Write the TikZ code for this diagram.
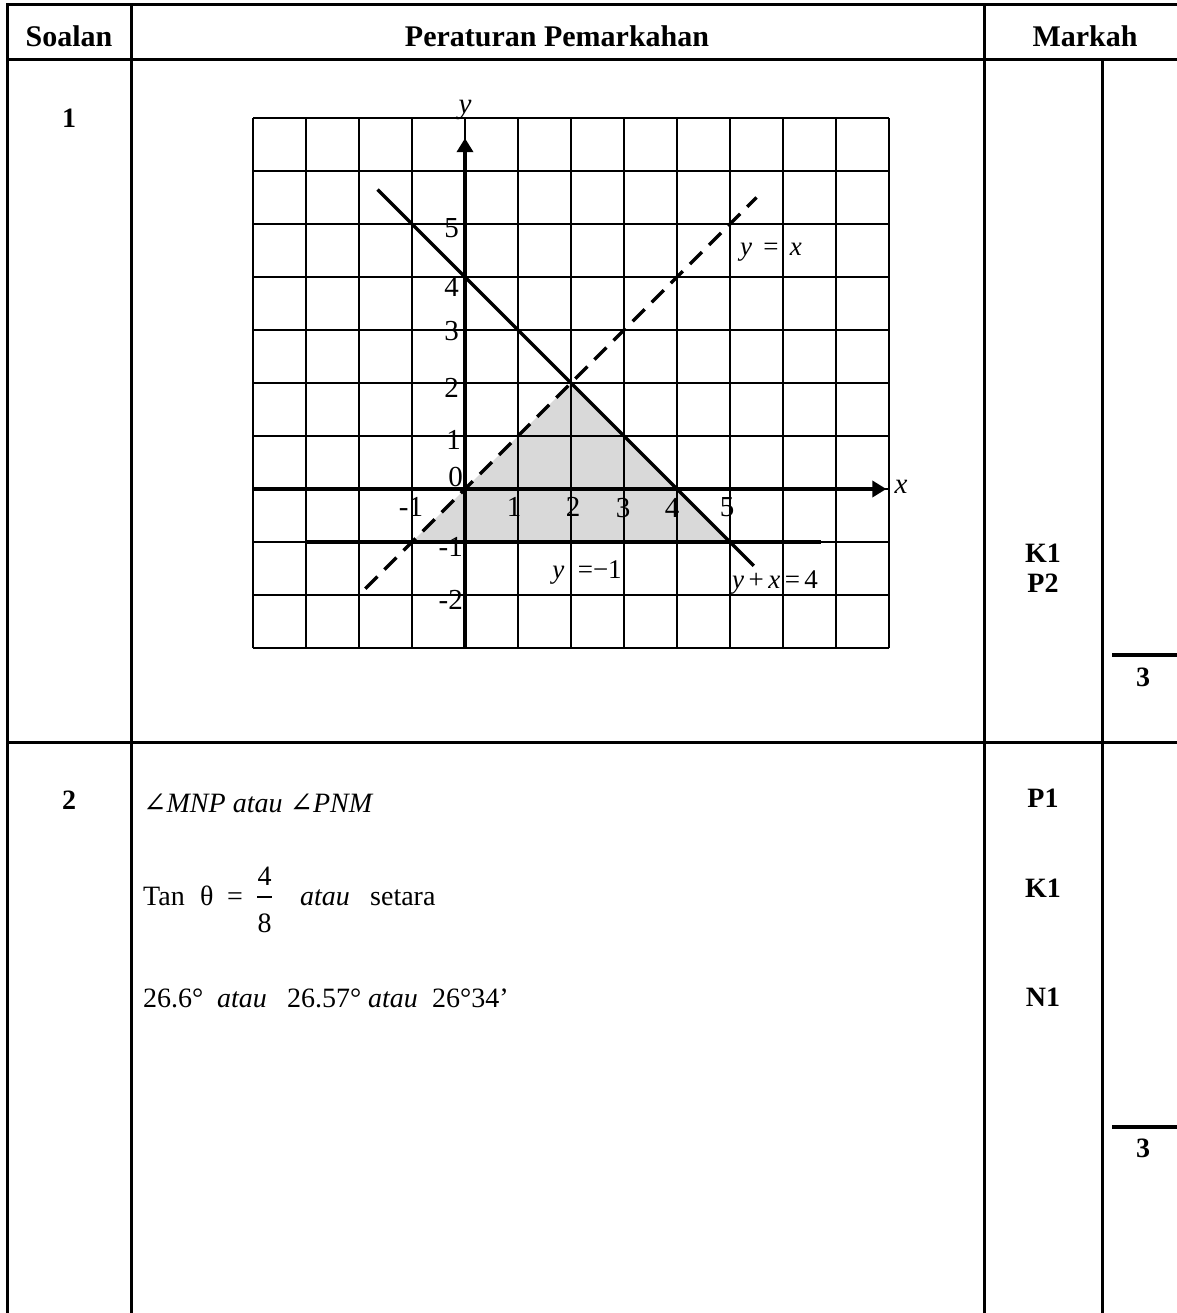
\documentclass[tikz,border=0pt]{standalone}
\usepackage{fontspec}
\setmainfont{Liberation Serif}
\newfontfamily\angfont{DejaVu Serif}
\usetikzlibrary{arrows.meta}
\begin{document}
\begin{tikzpicture}[x=1pt,y=-1pt,
  tbl/.style={line width=3pt,line cap=rect},
  hdr/.style={font=\fontsize{30}{34}\selectfont\bfseries, inner sep=0pt},
  body/.style={font=\fontsize{28}{32}\selectfont, inner sep=0pt},
  mk/.style={font=\fontsize{28}{32}\selectfont\bfseries, inner sep=0pt},
  num/.style={font=\fontsize{29}{32}\selectfont, inner sep=0pt},
  lbl/.style={font=\fontsize{27}{32}\selectfont, inner sep=0pt},
  gridl/.style={line width=1.8pt},
  axisl/.style={line width=3.5pt, -{Triangle[length=14pt,width=16pt]}},
  graphl/.style={line width=3.5pt},
  totrule/.style={line width=3.5pt},
]
\useasboundingbox (0,0) rectangle (1176,1313);
\fill[white] (0,0) rectangle (1176,1313);
% table frame
\draw[tbl] (7,5) -- (1180,5);
\draw[tbl] (7,60) -- (1180,60);
\draw[tbl] (7,742) -- (1180,742);
\draw[tbl] (7,5) -- (7,1320);
\draw[tbl] (131,5) -- (131,1320);
\draw[tbl] (984,5) -- (984,1320);
\draw[tbl] (1102,60) -- (1102,1320);
% headers
\node[hdr] (hS) at (69,36) {Soalan};
\node[hdr] (hP) at (557,36) {Peraturan Pemarkahan};
\node[hdr] (hM) at (1085,36) {Markah};
\node[mk] (q1) at (69,118) {1};
\node[mk] (q2) at (69,800) {2};
% graph
\begin{scope}[shift={(465pt,-489pt)}, x=53pt, y=53pt]
  \fill[black!15] (-1,-1) -- (2,2) -- (5,-1) -- cycle;
  \draw[gridl, step={(1,1)}] (-4,-3) grid (8,7);
  \coordinate (xa0) at (-4,0);
  \coordinate (xa1) at (7.95,0);
  \coordinate (ya0) at (0,-3);
  \coordinate (ya1) at (0,6.62);
  \draw[axisl] (xa0) -- (xa1);
  \draw[axisl] (ya0) -- (ya1);
  \coordinate (l1a) at (-1.65,5.65);
  \coordinate (l1b) at (5.45,-1.45);
  \draw[graphl] (l1a) -- (l1b);
  \coordinate (l2a) at (-1.88,-1.88);
  \coordinate (l2b) at (5.5,5.5);
  \draw[graphl, dash pattern=on 17pt off 10pt] (l2a) -- (l2b);
  \coordinate (l3a) at (-3,-1);
  \coordinate (l3b) at (6.72,-1);
  \draw[graphl] (l3a) -- (l3b);
\end{scope}
% axis labels
\node[num, font=\fontsize{29}{32}\selectfont\itshape] (ylab) at (465,110) {y};
\node[num, font=\fontsize{29}{32}\selectfont\itshape] (xlab) at (901,487) {x};
\node[num, anchor=east] (y5) at (459,228) {5};
\node[num, anchor=east] (y4) at (459,287) {4};
\node[num, anchor=east] (y3) at (459,331) {3};
\node[num, anchor=east] (y2) at (459,388) {2};
\node[num, anchor=east] (y1) at (461,440) {1};
\node[num, anchor=east] (y0) at (463,477) {0};
\node[num, anchor=east] (ym1) at (463,547) {-1};
\node[num, anchor=east] (ym2) at (463,600) {-2};
\node[num] (xm1) at (411,507) {-1};
\node[num] (x1) at (514,507) {1};
\node[num] (x2) at (573,507) {2};
\node[num] (x3) at (623,508) {3};
\node[num] (x4) at (672,508) {4};
\node[num] (x5) at (727,507) {5};
\node[lbl] (eqa) at (771,252) {\textit{y}\, =\, \textit{x}};
\node[lbl] (eqb) at (587,572) {\textit{y}\enspace=−1};
\node[lbl] (eqc) at (775,583) {\textit{y}\,+\,\textit{x}\,=\,4};
% marks row 1
\node[mk] (m1a) at (1043,553) {K1};
\node[mk] (m1b) at (1043,583) {P2};
\coordinate (t1a) at (1112,655);
\coordinate (t1b) at (1180,655);
\draw[totrule] (t1a) -- (t1b);
\node[mk] (t1) at (1143,677) {3};
% row 2 text
\node[body, anchor=base west] (r2l1) at (143,812) {{\angfont ∠}\textit{MNP atau }{\angfont ∠}\textit{PNM}};
\node[body, anchor=base west] (tan) at (143,905) {Tan};
\node[body, anchor=base west] (th) at (200,905) {θ};
\node[body, anchor=base west] (eq) at (227,905) {=};
\node[body, anchor=base] (fn) at (264.5,885) {4};
\node[body, anchor=base] (fd) at (264.5,932) {8};
\coordinate (fb1) at (257,897);
\coordinate (fb2) at (272,897);
\draw[line width=1.5pt] (fb1) -- (fb2);
\node[body, anchor=base west] (at1) at (300,905) {\textit{atau}};
\node[body, anchor=base west] (set) at (370,905) {setara};
\node[body, anchor=base west] (v1) at (143,1007) {26.6°};
\node[body, anchor=base west] (at2) at (217,1007) {\textit{atau}};
\node[body, anchor=base west] (v2) at (287,1007) {26.57°};
\node[body, anchor=base west] (at3) at (368,1007) {\textit{atau}};
\node[body, anchor=base west] (v3) at (432,1007) {26°34’};
% marks row 2
\node[mk] (m2a) at (1043,798) {P1};
\node[mk] (m2b) at (1043,888) {K1};
\node[mk] (m2c) at (1043,997) {N1};
\coordinate (t2a) at (1112,1127);
\coordinate (t2b) at (1180,1127);
\draw[totrule] (t2a) -- (t2b);
\node[mk] (t2) at (1143,1148) {3};
\end{tikzpicture}
\end{document}
